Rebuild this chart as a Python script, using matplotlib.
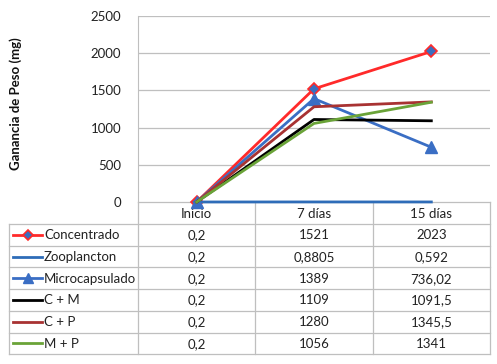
import matplotlib
matplotlib.use("Agg")
import matplotlib.pyplot as plt

plt.rcParams['font.family'] = ['Lato', 'DejaVu Sans']

categories = ["Inicio", "7 días", "15 días"]
series_names = ["Concentrado", "Zooplancton", "Microcapsulado", "C + M", "C + P", "M + P"]
concentrado = [0.2, 1521, 2023]
zooplancton = [0.2, 0.8805, 0.592]
microcapsulado = [0.2, 1389, 736.02]
c_m = [0.2, 1109, 1091.5]
c_p = [0.2, 1280, 1345.5]
m_p = [0.2, 1056, 1341]
table_text = [
    ["0,2", "1521", "2023"],
    ["0,2", "0,8805", "0,592"],
    ["0,2", "1389", "736,02"],
    ["0,2", "1109", "1091,5"],
    ["0,2", "1280", "1345,5"],
    ["0,2", "1056", "1341"],
]
yticks = [0, 500, 1000, 1500, 2000, 2500]
ylabel = "Ganancia de Peso (mg)"

values = [concentrado, zooplancton, microcapsulado, c_m, c_p, m_p]
styles = [
    dict(color="#FF2A2A", marker="D", markersize=6, markerfacecolor="#3A6EBF", markeredgecolor="#FF2A2A", markeredgewidth=1.2),
    dict(color="#2E6CB8", marker=None),
    dict(color="#3A6EC4", marker="^", markersize=9, markerfacecolor="#3A6EC4", markeredgecolor="#3A6EC4"),
    dict(color="#000000", marker=None),
    dict(color="#A83232", marker=None),
    dict(color="#6AA338", marker=None),
]
zorders = [3, 3.1, 3.2, 3.3, 3.4, 3.5]

W, H = 497, 364
FS = 9.5
fig = plt.figure(figsize=(W / 100, H / 100), dpi=100)

L, R, T, B = 138, 490, 16, 202
ax = fig.add_axes([L / W, 1 - B / H, (R - L) / W, (B - T) / H])
x = list(range(len(categories)))
for vals, st, z in zip(values, styles, zorders):
    ax.plot(x, vals, lw=2, zorder=z, clip_on=False, **st)
ax.set_xlim(-0.5, len(categories) - 0.5)
ax.set_ylim(0, 2500)
ax.set_yticks(yticks)
ax.set_yticklabels([str(t) for t in yticks], fontsize=FS, color="#222222")
ax.set_xticks([])
ax.grid(axis="y", color="#BFBFBF", lw=0.9)
ax.set_axisbelow(True)
for s in ["top", "right", "bottom"]:
    ax.spines[s].set_visible(False)
ax.spines["left"].set_color("#BFBFBF")
ax.tick_params(axis="y", length=0, pad=12)
fig.text(16 / W, 1 - 104 / H, ylabel, rotation=90, ha="center", va="center",
         fontsize=9.5, fontweight="bold", color="#111111")

# table overlay
ov = fig.add_axes([0, 0, 1, 1], zorder=-1)
ov.set_xlim(0, W)
ov.set_ylim(H, 0)
ov.axis("off")
gc = "#BFBFBF"
colw = (R - L) / len(categories)
col_edges = [L + i * colw for i in range(len(categories) + 1)]
row_h = 21.7
header_top, header_bot = B, B + 22
rows_y = [header_bot + i * row_h for i in range(len(series_names) + 1)]
legend_left = 9

for xe in col_edges:
    ov.plot([xe, xe], [header_top, rows_y[-1]], color=gc, lw=0.9)
ov.plot([legend_left, legend_left], [rows_y[0], rows_y[-1]], color=gc, lw=0.9)
for yy in rows_y:
    ov.plot([legend_left, R], [yy, yy], color=gc, lw=0.9)
ov.plot([L, R], [header_top, header_top], color=gc, lw=0.9)

for i, c in enumerate(categories):
    ov.text(L + (i + 0.5) * colw, (header_top + header_bot) / 2 + 1.5, c, ha="center", va="center", fontsize=FS, color="#222222")

for r, (name, st) in enumerate(zip(series_names, styles)):
    yc = (rows_y[r] + rows_y[r + 1]) / 2
    st2 = dict(st)
    if st2.get("marker"):
        st2["markersize"] = st2["markersize"] * 0.8
    ov.plot([13, 42], [yc, yc], lw=2, **{k: v for k, v in st2.items() if k != "marker"})
    if st2.get("marker"):
        ov.plot([27.5], [yc], linestyle="none", **st2)
    ov.text(44, yc + 0.5, name, ha="left", va="center", fontsize=FS, color="#222222")
    for i, t in enumerate(table_text[r]):
        ov.text(L + (i + 0.5) * colw, yc + 0.5, t, ha="center", va="center", fontsize=FS, color="#222222")

fig.savefig("out.png", dpi=100)
